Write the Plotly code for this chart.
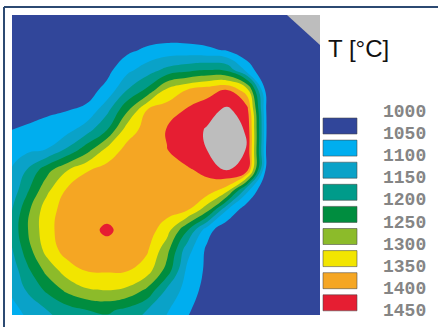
import plotly.graph_objects as go

# ---------------- data ----------------
# grid node positions (image pixel coordinates of the temperature field)
x_nodes = [7, 27, 47, 67, 87, 107, 127, 147, 167, 187, 207, 227, 247, 267, 287, 307, 327]
y_nodes = [10, 30, 50, 70, 90, 110, 130, 150, 170, 190, 210, 230, 250, 270, 290, 310, 330]

# temperature [°C] at the grid nodes, one list per row (y)
T_y010 = [980, 980, 980, 980, 980, 980, 980, 980, 980, 980, 980, 980, 980, 980, 980, 980, 980]
T_y030 = [980, 980, 980, 982, 985, 990, 1000, 1010, 1014, 1012, 1008, 1000, 990, 982, 980, 980, 980]
T_y050 = [982, 984, 985, 988, 995, 1010, 1038, 1059, 1069, 1068, 1060, 1045, 1015, 990, 980, 980, 980]
T_y070 = [985, 988, 990, 995, 1005, 1035, 1086, 1125, 1164, 1185, 1200, 1190, 1080, 1000, 980, 980, 980]
T_y090 = [990, 995, 1000, 1010, 1030, 1065, 1150, 1210, 1312, 1352, 1378, 1400, 1320, 1020, 982, 980, 980]
T_y110 = [1010, 1025, 1040, 1048, 1060, 1135, 1240, 1350, 1375, 1405, 1430, 1460, 1420, 1035, 985, 980, 980]
T_y130 = [1048, 1060, 1070, 1083, 1130, 1200, 1327, 1368, 1403, 1425, 1455, 1470, 1446, 1040, 985, 980, 980]
T_y150 = [1075, 1090, 1102, 1160, 1231, 1317, 1365, 1380, 1399, 1420, 1450, 1472, 1448, 1030, 982, 980, 980]
T_y170 = [1090, 1152, 1232, 1297, 1347, 1368, 1375, 1380, 1385, 1395, 1410, 1456, 1420, 1020, 980, 980, 980]
T_y190 = [1097, 1190, 1288, 1356, 1372, 1372, 1375, 1375, 1377, 1380, 1382, 1325, 1115, 990, 980, 980, 980]
T_y210 = [1120, 1235, 1330, 1370, 1380, 1385, 1380, 1375, 1370, 1355, 1269, 1100, 1015, 985, 980, 980, 980]
T_y230 = [1140, 1245, 1335, 1375, 1388, 1407, 1386, 1375, 1322, 1206, 1071, 1010, 990, 980, 980, 980, 980]
T_y250 = [1120, 1225, 1320, 1372, 1383, 1385, 1378, 1357, 1267, 1121, 1040, 1005, 985, 980, 980, 980, 980]
T_y270 = [1100, 1188, 1267, 1326, 1355, 1357, 1355, 1325, 1231, 1090, 1040, 1005, 985, 980, 980, 980, 980]
T_y290 = [1095, 1155, 1210, 1262, 1295, 1302, 1290, 1240, 1140, 1080, 1030, 1000, 985, 980, 980, 980, 980]
T_y310 = [1080, 1110, 1150, 1180, 1200, 1210, 1187, 1150, 1105, 1058, 1020, 995, 980, 980, 980, 980, 980]
T_y330 = [1065, 1090, 1120, 1145, 1160, 1165, 1150, 1120, 1080, 1040, 1005, 985, 980, 980, 980, 980, 980]

# grey corner region (top right of the field)
corner_x = [287, 320, 320, 287]
corner_y = [15, 15, 45, 15]

# legend levels and band colours
levels = [1000, 1050, 1100, 1150, 1200, 1250, 1300, 1350, 1400, 1450]
band_colors = ["#31469A", "#00AEEF", "#0AA2C8", "#009B8A", "#008D3F",
               "#8CBB2A", "#F2E500", "#F5A623", "#E61E32", "#BDBDBD"]
title_text = "T [°C]"

# ---------------- figure ----------------
W, H = 438, 327
z = [T_y010, T_y030, T_y050, T_y070, T_y090, T_y110, T_y130, T_y150, T_y170,
     T_y190, T_y210, T_y230, T_y250, T_y270, T_y290, T_y310, T_y330]

n = len(band_colors)
colorscale = []
for i, c in enumerate(band_colors):
    colorscale.append([i / n, c])
    colorscale.append([(i + 1) / n, c])

step = levels[1] - levels[0]
fig = go.Figure()
fig.add_trace(go.Contour(
    x=x_nodes, y=y_nodes, z=z,
    autocontour=False,
    contours=dict(start=levels[1], end=levels[-1] + step, size=step, coloring="fill"),
    colorscale=colorscale,
    line=dict(width=0, smoothing=1.3),
    showscale=False,
    hoverinfo="skip",
))
fig.add_trace(go.Scatter(
    x=corner_x, y=corner_y, mode="lines", fill="toself",
    fillcolor=band_colors[-1], line=dict(width=0, color=band_colors[-1]),
    hoverinfo="skip",
))

px0, px1, py0, py1 = 12, 320, 15, 315
fig.update_layout(
    width=W, height=H,
    margin=dict(l=0, r=0, t=0, b=0),
    paper_bgcolor="white", plot_bgcolor="white",
    showlegend=False,
    xaxis=dict(domain=[px0 / W, px1 / W], range=[px0, px1], visible=False),
    yaxis=dict(domain=[1 - py1 / H, 1 - py0 / H], range=[py1, py0], visible=False),
)

shapes = []
# outer frame lines
shapes.append(dict(type="line", xref="paper", yref="paper",
                   x0=4 / W, x1=1, y0=1 - 7 / H, y1=1 - 7 / H,
                   line=dict(color="#2C4A72", width=2)))
shapes.append(dict(type="line", xref="paper", yref="paper",
                   x0=4 / W, x1=4 / W, y0=0, y1=1 - 7 / H,
                   line=dict(color="#2C4A72", width=2)))
# legend boxes
annotations = []
pitch = 22.1
for i in range(len(levels) - 1):
    top = 118 + pitch * i
    shapes.append(dict(type="rect", xref="paper", yref="paper",
                       x0=323 / W, x1=357 / W, y0=1 - (top + 16) / H, y1=1 - top / H,
                       fillcolor=band_colors[i],
                       line=dict(color="rgba(70,70,70,0.55)", width=1)))
for i, lv in enumerate(levels):
    yc = 112 + pitch * i
    annotations.append(dict(xref="paper", yref="paper", x=381 / W, y=1 - yc / H,
                            xanchor="left", yanchor="middle", showarrow=False,
                            text="<b>%d</b>" % lv,
                            font=dict(family="Liberation Mono", size=18, color="#858585")))
annotations.append(dict(xref="paper", yref="paper", x=326 / W, y=1 - 48 / H,
                        xanchor="left", yanchor="middle", showarrow=False,
                        text=title_text,
                        font=dict(family="Liberation Sans", size=24, color="#111111")))
fig.update_layout(shapes=shapes, annotations=annotations)

fig.write_html("out.html",
               config={"displayModeBar": False, "staticPlot": True},
               post_script="document.body.style.margin='0px';document.body.style.overflow='hidden';")
